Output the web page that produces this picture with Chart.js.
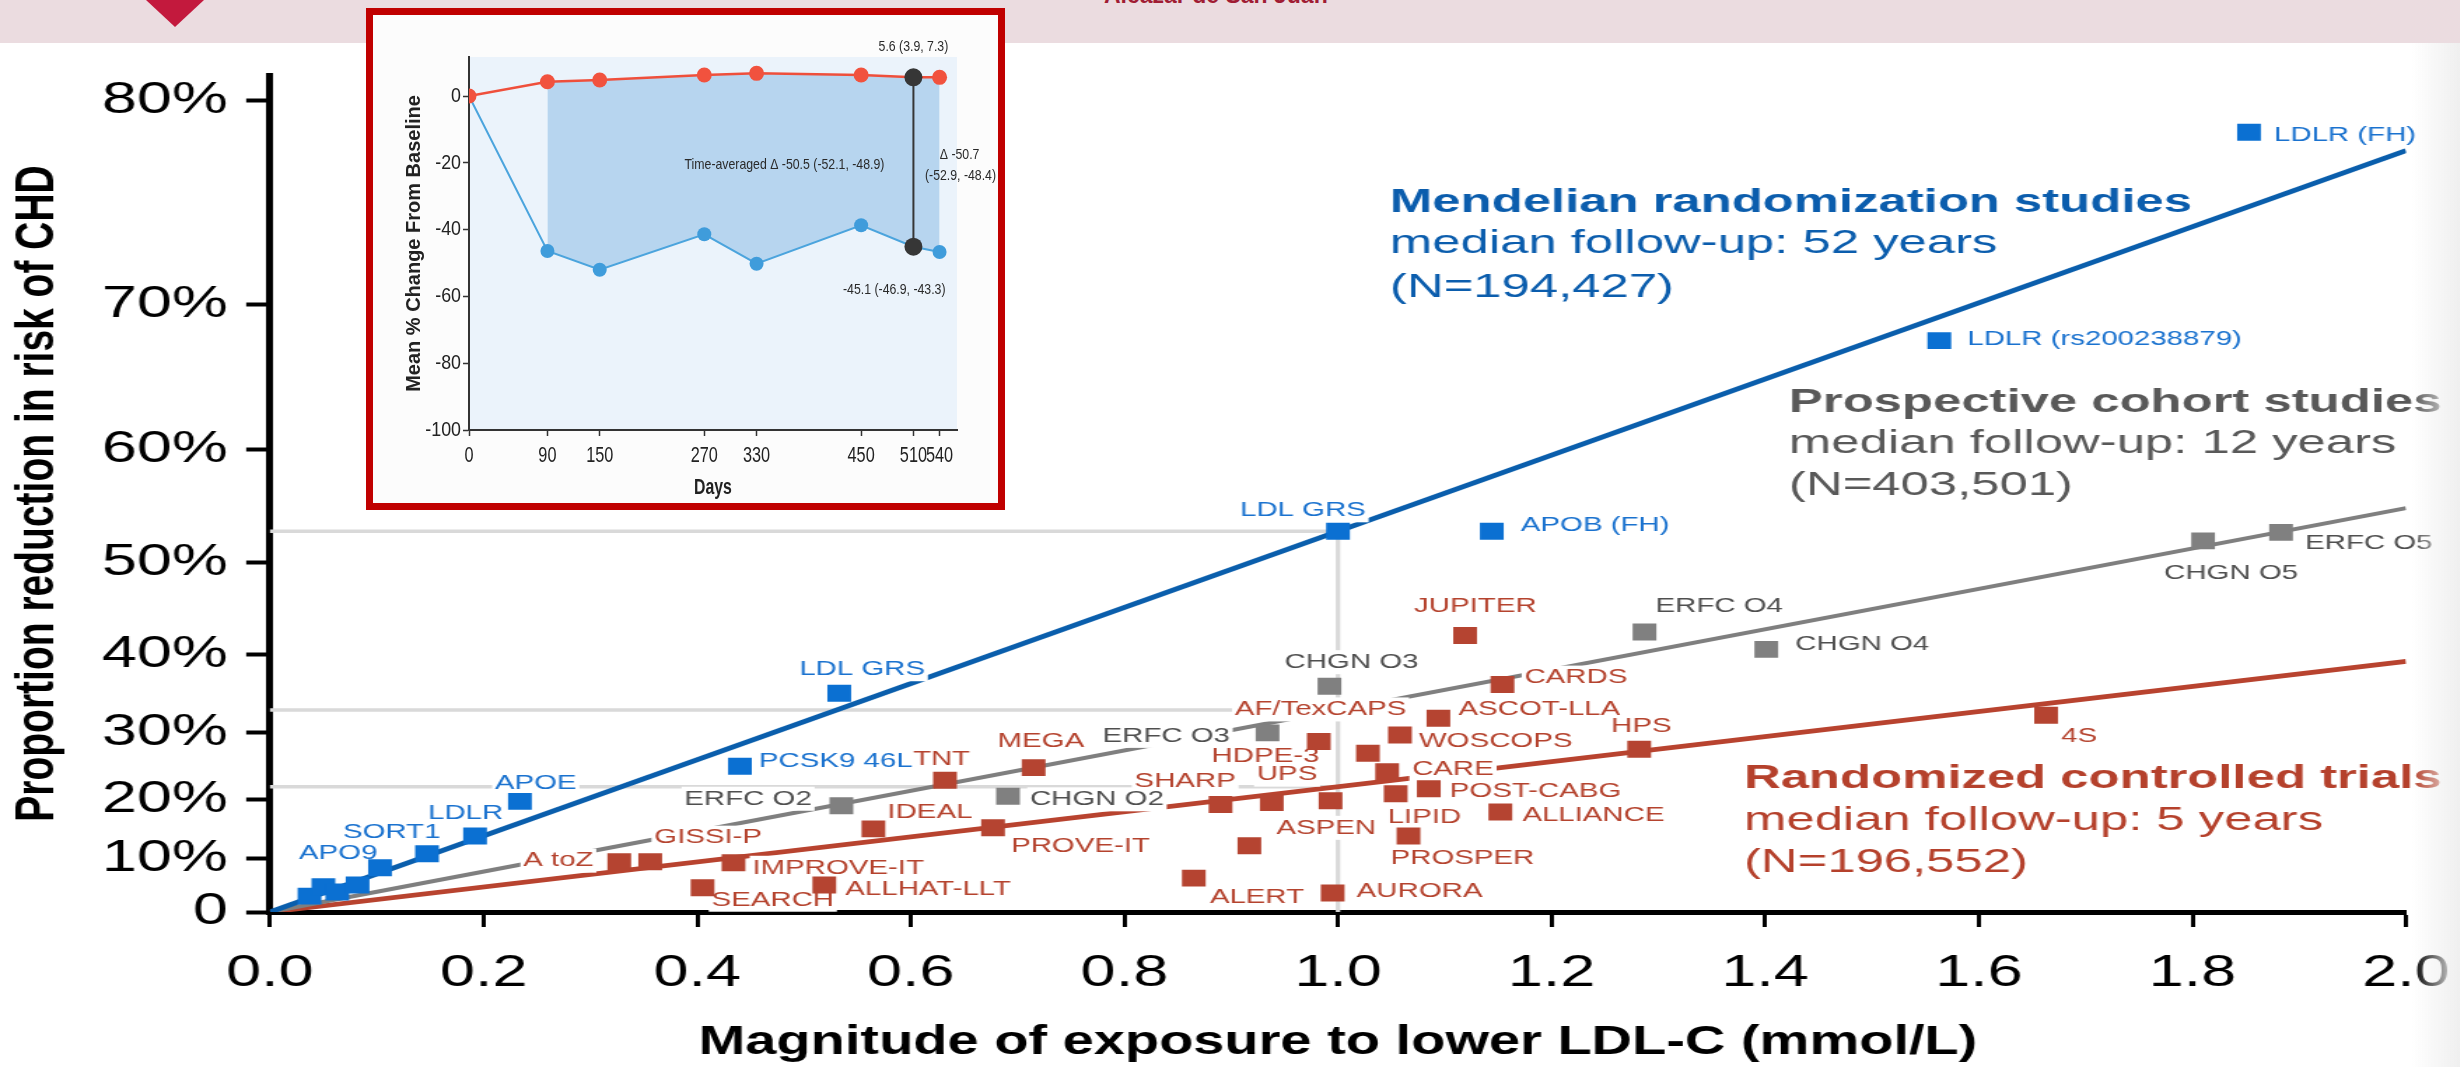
<!DOCTYPE html>
<html>
<head>
<meta charset="utf-8">
<title>LDL-C exposure and CHD risk reduction</title>
<script src="https://cdn.jsdelivr.net/npm/chart.js@4.4.1/dist/chart.umd.min.js"></script>
<style>
  html, body { margin:0; padding:0; width:2460px; height:1067px; overflow:hidden; background:#fff; }
  #band { position:absolute; left:0; top:0; width:2460px; height:43px; background:#ebdce0; }
  #logo { position:absolute; left:146px; top:0; width:58px; height:27px; background:#c3193d; clip-path:polygon(0 0,100% 0,50% 100%); }
  #place { position:absolute; left:1104px; top:-18px; font:bold 23px "Liberation Sans Narrow","Liberation Sans",sans-serif; color:#a01c34; white-space:nowrap; }
  #edge { position:absolute; left:2412px; top:43px; width:48px; height:1024px; background:linear-gradient(to right, rgba(242,242,242,0), #efefef); }
  #mainWrap { position:absolute; left:0; top:0; width:1780px; height:1067px; transform:scaleX(1.4); transform-origin:0 0; }
  #insetBox { position:absolute; left:366px; top:8px; width:625px; height:488px; border:7px solid #c00000; background:#fcfcfc; }
  #insetWrap { position:relative; width:625px; height:488px; }
</style>
</head>
<body>
<div id="band"></div>
<div id="logo"></div>
<div id="place">Alcazar de San Juan</div>
<div id="mainWrap"><canvas id="mainCanvas"></canvas></div>
<div id="edge"></div>
<div id="insetBox"><div id="insetWrap"><canvas id="insetCanvas"></canvas></div></div>

<script>
// ---------- main chart data: LDL-C exposure (mmol/L) vs % reduction in CHD risk ----------
const xTickLabels = ['0.0', '0.2', '0.4', '0.6', '0.8', '1.0', '1.2', '1.4', '1.6', '1.8', '2.0'];
const yTickLabels = ['0', '10%', '20%', '30%', '40%', '50%', '60%', '70%', '80%'];

// Mendelian randomization studies
const mrNames = ['', '', '', '', 'APO9', 'SORT1', 'LDLR', 'APOE', 'PCSK9 46L', 'LDL GRS', 'LDL GRS', 'APOB (FH)', 'LDLR (rs200238879)', 'LDLR (FH)'];
const mrLdl = [0.037, 0.050, 0.063, 0.082, 0.103, 0.147, 0.192, 0.234, 0.440, 0.533, 1.000, 1.144, 1.563, 1.853];
const mrReduction = [3.1, 4.9, 3.9, 5.2, 8.4, 10.9, 14.0, 19.7, 25.1, 35.2, 53.0, 53.0, 67.8, 78.7];
const mrPerMmol = 53;

// Prospective cohort studies
const cohortNames = ['ERFC O2', 'CHGN O2', 'ERFC O3', 'CHGN O3', 'ERFC O4', 'CHGN O4', 'CHGN O5', 'ERFC O5'];
const cohortLdl = [0.535, 0.691, 0.934, 0.992, 1.287, 1.401, 1.810, 1.883];
const cohortReduction = [19.0, 20.5, 29.9, 36.1, 42.6, 40.6, 52.1, 52.9];
const cohortPerMmol = 33;

// Randomized controlled trials
const rctNames = ['A toZ', 'GISSI-P', 'SEARCH', 'IMPROVE-IT', 'ALLHAT-LLT', 'IDEAL', 'TNT', 'PROVE-IT', 'MEGA', 'ALERT',
  'SHARP', 'ASPEN', 'UPS', 'AF/TexCAPS', 'HDPE-3', 'AURORA', '', 'CARE', 'LIPID', 'WOSCOPS',
  'PROSPER', 'POST-CABG', 'ASCOT-LLA', 'JUPITER', 'ALLIANCE', 'CARDS', 'HPS', '4S'];
const rctLdl = [0.327, 0.356, 0.405, 0.434, 0.519, 0.565, 0.632, 0.677, 0.715, 0.865,
  0.890, 0.917, 0.938, 0.982, 0.993, 0.995, 1.028, 1.046, 1.054, 1.058,
  1.066, 1.085, 1.094, 1.119, 1.152, 1.154, 1.282, 1.663];
const rctReduction = [9.5, 9.5, 4.7, 9.3, 5.2, 15.2, 23.0, 15.4, 24.9, 6.5,
  19.2, 12.3, 19.5, 28.7, 19.8, 3.7, 27.0, 24.3, 20.9, 29.6,
  14.0, 21.7, 31.9, 42.2, 18.0, 36.3, 27.6, 32.3];
const rctPerMmol = 22;

const mrNote = ['Mendelian randomization studies', 'median follow-up: 52 years', '(N=194,427)'];
const cohortNote = ['Prospective cohort studies', 'median follow-up: 12 years', '(N=403,501)'];
const rctNote = ['Randomized controlled trials', 'median follow-up: 5 years', '(N=196,552)'];

// ---------- inset data: mean % change in LDL-C from baseline ----------
const insetDays = [0, 90, 150, 270, 330, 450, 510, 540];
const placeboChange = [0, 4.3, 4.8, 6.3, 6.8, 6.3, 5.6, 5.6];
const treatedChange = [0, -46.4, -52.0, -41.4, -50.2, -38.7, -45.1, -46.7];
const insetYTicks = [-100, -80, -60, -40, -20, 0];

// ---------- layout / styling ----------
const S = 1.4;                     // horizontal stretch applied to the main canvas
const WRAP_W = 1780;               // main canvas width before the stretch
const SANS = '"Liberation Sans", Arial, sans-serif';
Chart.defaults.font.family = SANS;

// proportional risk reduction (%) -> log relative risk, the scale the main y axis is linear in
const toLogRR = p => -Math.log(1 - p / 100);

// label placement relative to each marker, [dx, dy] in screen pixels
const mrLabelAt = [null, null, null, null, [-81, -15], [-84, -22], [-47, -23], [-25, -18], [19, -5], [-40, -24], [-98, -21], [29, -6], [28, -1], [25, 3]];
const cohortLabelAt = [[-157, -7], [22, 3], [-165, 3], [-45, -24], [11, -26], [29, -5], [-39, 32], [24, 11]];
const rctLabelAt = [[-96, -1], [4, -24], [9, 12], [19, 5], [21, 4], [14, -17], [-32, -21], [18, 19], [-36, -26], [16, 19],
  [-86, -23], [27, -18], [-15, -28], [-84, -32], [-119, -45], [24, -2], null, [25, -2], [-8, 23], [19, 6],
  [-18, 22], [21, 3], [20, -9], [-51, -29], [22, 3], [22, -7], [-28, -23], [15, 21]];

const groups = [
  { names: mrNames, ldl: mrLdl, reduction: mrReduction, labelAt: mrLabelAt, marker: '#0b70d2', text: '#1a72cf',
    perMmol: mrPerMmol, line: '#0a5eac', lineWidth: 4.8,
    note: mrNote, noteColor: '#0b5dad', noteLeft: 1390, noteBase: [212, 253, 297] },
  { names: cohortNames, ldl: cohortLdl, reduction: cohortReduction, labelAt: cohortLabelAt, marker: '#808080', text: '#4f4f4f',
    perMmol: cohortPerMmol, line: '#7f7f7f', lineWidth: 4,
    note: cohortNote, noteColor: '#595959', noteLeft: 1789, noteBase: [412, 453, 495] },
  { names: rctNames, ldl: rctLdl, reduction: rctReduction, labelAt: rctLabelAt, marker: '#b54431', text: '#b5432e',
    perMmol: rctPerMmol, line: '#b8432f', lineWidth: 4.8,
    note: rctNote, noteColor: '#b5412c', noteLeft: 1744, noteBase: [788, 830, 872] }
];

const fitRange = [0, 2];

const pointSets = groups.map(g => ({
  type: 'scatter',
  data: g.ldl.map((x, i) => ({ x, y: toLogRR(g.reduction[i]) })),
  pointStyle: 'rect', pointRadius: 12, pointBorderWidth: 0,
  backgroundColor: g.marker, borderColor: g.marker, order: 1, isMarkers: true
}));
const fitSets = groups.map(g => ({
  type: 'line',
  data: fitRange.map(x => ({ x, y: toLogRR(g.perMmol) * x })),
  borderColor: g.line, borderWidth: g.lineWidth, pointRadius: 0, fill: false, tension: 0, order: 2
}));

function drawLabels(chart) {
  const { ctx, scales: { x: xs, y: ys } } = chart;
  const items = [];
  groups.forEach(g => g.names.forEach((name, i) => {
    const at = g.labelAt[i];
    if (!name || !at) return;
    items.push({
      name, color: g.text,
      x: xs.getPixelForValue(g.ldl[i]) + at[0] / S,
      y: ys.getPixelForValue(toLogRR(g.reduction[i])) + at[1]
    });
  }));
  ctx.save();
  ctx.font = '21px ' + SANS;
  ctx.textAlign = 'left';
  ctx.textBaseline = 'middle';
  ctx.fillStyle = '#fff';
  items.forEach(it => ctx.fillRect(it.x - 2, it.y - 12, ctx.measureText(it.name).width + 4, 24));
  items.forEach(it => { ctx.fillStyle = it.color; ctx.fillText(it.name, it.x, it.y); });
  ctx.restore();
}

const overlay = {
  id: 'overlay',
  beforeDraw(chart) { chart.$labelsDone = false; },
  beforeDatasetsDraw(chart) {
    // reference lines at 1 mmol/L exposure
    const { ctx, scales: { x: xs, y: ys } } = chart;
    const x0 = xs.getPixelForValue(0), x1 = xs.getPixelForValue(1);
    ctx.save();
    ctx.strokeStyle = '#d9d9d9';
    ctx.lineWidth = 3.5;
    groups.forEach(g => {
      const y = ys.getPixelForValue(toLogRR(g.perMmol));
      ctx.beginPath(); ctx.moveTo(x0, y); ctx.lineTo(x1, y); ctx.stroke();
    });
    ctx.lineWidth = 4.5 / S;
    ctx.beginPath();
    ctx.moveTo(x1, ys.getPixelForValue(0));
    ctx.lineTo(x1, ys.getPixelForValue(toLogRR(Math.max(...groups.map(g => g.perMmol)))));
    ctx.stroke();
    ctx.restore();
  },
  beforeDatasetDraw(chart, args) {
    if (!chart.$labelsDone && chart.data.datasets[args.index].isMarkers) {
      drawLabels(chart);
      chart.$labelsDone = true;
    }
  },
  afterDatasetsDraw(chart) {
    const ctx = chart.ctx;
    ctx.save();
    ctx.textAlign = 'left';
    ctx.textBaseline = 'alphabetic';
    groups.forEach(g => {
      ctx.fillStyle = g.noteColor;
      g.note.forEach((line, i) => {
        ctx.font = (i === 0 ? 'bold ' : '') + '33px ' + SANS;
        ctx.save();
        ctx.translate(g.noteLeft / S, g.noteBase[i]);
        ctx.scale(1.1, 1);
        ctx.fillText(line, 0, 0);
        ctx.restore();
      });
    });
    ctx.restore();
  }
};

new Chart(document.getElementById('mainCanvas'), {
  type: 'scatter',
  data: { datasets: [...pointSets, ...fitSets] },
  options: {
    responsive: true, maintainAspectRatio: false, animation: false,
    layout: { padding: { top: 75, right: WRAP_W - 2406 / S, left: 0, bottom: 0 } },
    plugins: { legend: { display: false }, tooltip: { enabled: false } },
    scales: {
      x: {
        type: 'linear', min: 0, max: 2, z: 1,
        afterBuildTicks: s => { s.ticks = xTickLabels.map(t => ({ value: parseFloat(t) })); },
        afterFit: s => { s.height = 1067 - 912; },
        ticks: { callback: (v, i) => xTickLabels[i], font: { size: 45 }, color: '#000', padding: 20, autoSkip: false, maxRotation: 0 },
        grid: { drawOnChartArea: false, drawTicks: true, tickLength: 15, tickWidth: 3, tickColor: '#000' },
        border: { display: true, color: '#000', width: 5 },
        title: { display: true, text: 'Magnitude of exposure to lower LDL-C (mmol/L)', font: { size: 40, weight: 'bold' }, color: '#000', padding: { top: 0, bottom: 0 } }
      },
      y: {
        type: 'linear', min: 0, max: 1.66, z: 1,
        afterBuildTicks: s => { s.ticks = yTickLabels.map(t => ({ value: toLogRR(parseFloat(t)) })); },
        afterFit: s => { s.width = 270 / S; },
        ticks: { callback: (v, i) => yTickLabels[i], font: { size: 45 }, color: '#000', padding: 13, autoSkip: false },
        grid: { drawOnChartArea: false, drawTicks: true, tickLength: 17, tickWidth: 4, tickColor: '#000' },
        border: { display: true, color: '#000', width: 5 },
        title: { display: true, text: 'Proportion reduction in risk of CHD', font: { size: 39, weight: 'bold' }, color: '#000', padding: { top: 4, bottom: 0 } }
      }
    }
  },
  plugins: [overlay]
});

// ---------- inset chart ----------
const markerDay = 510;
const mi = insetDays.indexOf(markerDay);
const insetNotes = [
  { text: '5.6 (3.9, 7.3)', day: 510, value: 14.7 },
  { text: 'Time-averaged \u0394 -50.5 (-52.1, -48.9)', day: 362, value: -20.7 },
  { text: '\u0394 -50.7', day: 563, value: -17.7 },
  { text: '(-52.9, -48.4)', day: 564, value: -24.0 },
  { text: '-45.1 (-46.9, -43.3)', day: 488, value: -58.1 }
];

// condensed text: regular sans squeezed horizontally around its anchor
function squeezedText(ctx, text, x, y, font, sx, align) {
  ctx.save();
  ctx.font = font;
  ctx.textAlign = align;
  ctx.textBaseline = 'middle';
  ctx.translate(x, y);
  ctx.scale(sx, 1);
  ctx.fillText(text, 0, 0);
  ctx.restore();
}

const insetDecor = {
  id: 'insetDecor',
  beforeDraw(chart) {
    const { ctx, chartArea: a } = chart;
    ctx.save();
    ctx.fillStyle = '#ebf3fb';
    ctx.fillRect(a.left, a.top, a.right - a.left, a.bottom - a.top);
    ctx.restore();
  },
  afterDraw(chart) {
    const { ctx, chartArea: a, scales: { x: xs, y: ys } } = chart;
    ctx.save();
    ctx.fillStyle = '#222';
    xs.ticks.forEach(t => squeezedText(ctx, String(t.value), xs.getPixelForValue(t.value), a.bottom + 26, '22px ' + SANS, 0.74, 'center'));
    ys.ticks.forEach(t => squeezedText(ctx, String(t.value), a.left - 8, ys.getPixelForValue(t.value), '21px ' + SANS, 0.85, 'right'));
    squeezedText(ctx, 'Days', (a.left + a.right) / 2, a.bottom + 58, 'bold 22px ' + SANS, 0.72, 'center');
    ctx.fillStyle = '#2a2a2a';
    insetNotes.forEach(n => squeezedText(ctx, n.text, xs.getPixelForValue(n.day), ys.getPixelForValue(n.value), '15px ' + SANS, 0.82, 'center'));
    ctx.restore();
  }
};

new Chart(document.getElementById('insetCanvas'), {
  type: 'line',
  data: {
    datasets: [
      { label: 'band', data: insetDays.slice(1).map((d, i) => ({ x: d, y: placeboChange[i + 1] })),
        fill: '+1', backgroundColor: '#b7d5ef', borderWidth: 0, pointRadius: 0, order: 3 },
      { label: 'band base', data: insetDays.slice(1).map((d, i) => ({ x: d, y: treatedChange[i + 1] })),
        fill: false, borderWidth: 0, pointRadius: 0, order: 3 },
      { label: 'Placebo', data: insetDays.map((d, i) => ({ x: d, y: placeboChange[i] })),
        borderColor: '#ef4f3b', backgroundColor: '#f1523e', pointBackgroundColor: '#f1523e', pointBorderWidth: 0,
        pointRadius: 7.5, borderWidth: 2.5, tension: 0, fill: false, order: 1 },
      { label: 'Treated', data: insetDays.map((d, i) => ({ x: d, y: treatedChange[i] })),
        borderColor: '#4ba4dd', backgroundColor: '#3f9cdb', pointBackgroundColor: '#3f9cdb', pointBorderWidth: 0,
        pointRadius: 7, borderWidth: 2, tension: 0, fill: false, order: 1 },
      { label: 'Difference', data: [{ x: markerDay, y: placeboChange[mi] }, { x: markerDay, y: treatedChange[mi] }],
        borderColor: '#363636', backgroundColor: '#363636', pointBackgroundColor: '#363636', pointBorderWidth: 0,
        pointRadius: 9, borderWidth: 2, fill: false, order: 0 }
    ]
  },
  options: {
    responsive: true, maintainAspectRatio: false, animation: false,
    layout: { padding: { top: 42, right: 41, left: 0, bottom: 0 } },
    plugins: { legend: { display: false }, tooltip: { enabled: false } },
    scales: {
      x: {
        type: 'linear', min: 0, max: 560,
        afterBuildTicks: s => { s.ticks = insetDays.map(d => ({ value: d })); },
        afterFit: s => { s.height = 73; },
        ticks: { display: false },
        grid: { drawOnChartArea: false, tickLength: 6, tickColor: '#333', tickWidth: 1.5 },
        border: { color: '#333', width: 2 }
      },
      y: {
        type: 'linear', min: -100, max: 11.7,
        afterBuildTicks: s => { s.ticks = insetYTicks.map(v => ({ value: v })); },
        afterFit: s => { s.width = 96; },
        ticks: { display: false },
        grid: { drawOnChartArea: false, tickLength: 6, tickColor: '#333', tickWidth: 1.5 },
        border: { color: '#333', width: 2 },
        title: { display: true, text: 'Mean % Change From Baseline', font: { size: 20, weight: 'bold' }, color: '#222', padding: { top: 29, bottom: 0 } }
      }
    }
  },
  plugins: [insetDecor]
});
</script>
</body>
</html>
